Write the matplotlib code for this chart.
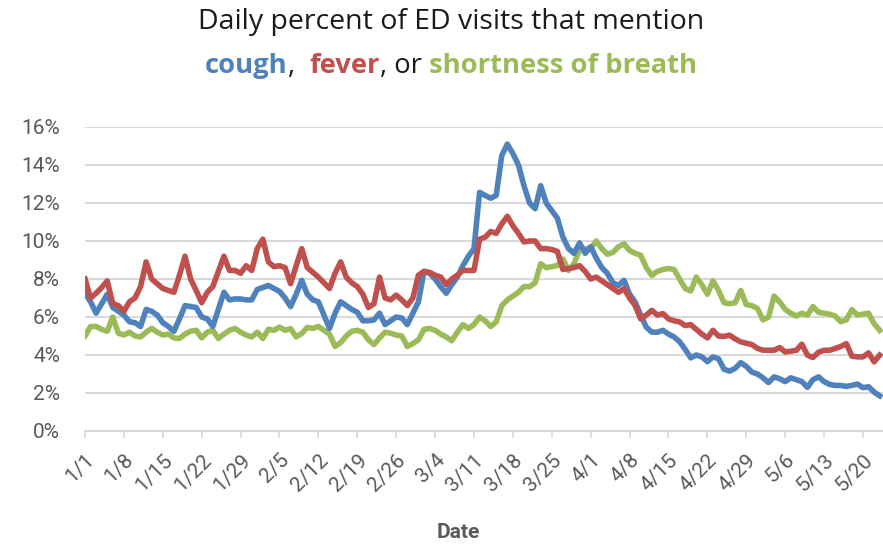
import matplotlib
matplotlib.use("Agg")
import matplotlib.pyplot as plt
import numpy as np
import pandas as pd

# daily values, 1/1 through 5/23 (2020), percent of ED visits
cough = [7.26, 6.8, 6.2, 6.7, 7.2, 6.5, 6.3, 6.1, 5.75, 5.7,
         5.5, 6.4, 6.3, 6.1, 5.7, 5.5, 5.25, 5.9, 6.6, 6.55,
         6.5, 6.0, 5.9, 5.5, 6.4, 7.3, 6.9, 6.95, 6.95, 6.9,
         6.9, 7.45, 7.55, 7.66, 7.5, 7.35, 7.0, 6.55, 7.2, 7.93,
         7.2, 6.9, 6.8, 6.1, 5.4, 6.2, 6.8, 6.6, 6.4, 6.25,
         5.8, 5.8, 5.85, 6.2, 5.6, 5.8, 6.0, 5.95, 5.6, 6.2,
         6.8, 8.4, 8.3, 8.0, 7.6, 7.25, 7.7, 8.1, 8.7, 9.2,
         9.6, 12.56, 12.4, 12.25, 12.4, 14.5, 15.1, 14.6, 14.0, 12.9,
         12.0, 11.7, 12.91, 12.0, 11.6, 11.2, 10.2, 9.6, 9.35, 9.9,
         9.35, 9.7, 9.1, 8.6, 8.3, 7.8, 7.66, 7.93, 7.2, 6.79,
         6.1, 5.47, 5.2, 5.2, 5.3, 5.1, 4.95, 4.7, 4.3, 3.85,
         4.0, 3.9, 3.65, 3.9, 3.8, 3.25, 3.15, 3.3, 3.6, 3.4,
         3.1, 3.0, 2.8, 2.55, 2.85, 2.75, 2.6, 2.8, 2.7, 2.6,
         2.3, 2.7, 2.85, 2.6, 2.45, 2.4, 2.4, 2.35, 2.4, 2.47,
         2.28, 2.33, 2.05, 1.85]
fever = [8.0, 7.0, 7.25, 7.55, 7.9, 6.7, 6.6, 6.3, 6.8, 7.0,
         7.6, 8.9, 8.0, 7.75, 7.5, 7.4, 7.3, 8.2, 9.2, 8.0,
         7.4, 6.75, 7.3, 7.6, 8.4, 9.2, 8.45, 8.45, 8.3, 8.7,
         8.45, 9.6, 10.1, 8.9, 8.65, 8.7, 8.6, 7.75, 8.7, 9.6,
         8.6, 8.35, 8.1, 7.8, 7.5, 8.3, 8.9, 8.1, 7.8, 7.6,
         7.2, 6.5, 6.7, 8.1, 7.0, 6.9, 7.15, 6.9, 6.6, 7.0,
         8.2, 8.4, 8.35, 8.2, 8.1, 7.7, 8.0, 8.2, 8.45, 8.45,
         8.45, 10.1, 10.2, 10.5, 10.4, 10.9, 11.3, 10.8, 10.4, 9.95,
         10.0, 10.0, 9.6, 9.6, 9.55, 9.45, 8.5, 8.55, 8.6, 8.7,
         8.4, 8.0, 8.1, 7.9, 7.7, 7.5, 7.3, 7.49, 7.0, 6.6,
         5.9, 6.1, 6.35, 6.1, 6.18, 5.9, 5.8, 5.74, 5.55, 5.6,
         5.35, 5.1, 4.9, 5.3, 5.0, 4.98, 5.04, 4.85, 4.69, 4.62,
         4.55, 4.35, 4.25, 4.25, 4.25, 4.39, 4.16, 4.2, 4.25, 4.57,
         3.99, 3.87, 4.15, 4.25, 4.25, 4.34, 4.45, 4.6, 3.94, 3.9,
         3.9, 4.11, 3.64, 3.99]
breath = [5.0, 5.5, 5.5, 5.35, 5.25, 6.0, 5.15, 5.05, 5.2, 5.0,
          4.95, 5.2, 5.4, 5.2, 5.05, 5.1, 4.9, 4.87, 5.1, 5.25,
          5.3, 4.9, 5.2, 5.3, 4.87, 5.1, 5.3, 5.4, 5.2, 5.05,
          4.95, 5.2, 4.87, 5.35, 5.3, 5.47, 5.3, 5.39, 4.95, 5.13,
          5.45, 5.4, 5.5, 5.3, 5.1, 4.45, 4.65, 5.0, 5.25, 5.3,
          5.2, 4.8, 4.55, 4.9, 5.2, 5.15, 5.05, 5.0, 4.45, 4.6,
          4.8, 5.35, 5.4, 5.3, 5.1, 4.95, 4.75, 5.2, 5.6, 5.4,
          5.6, 6.0, 5.8, 5.5, 5.74, 6.6, 6.9, 7.1, 7.3, 7.6,
          7.6, 7.8, 8.8, 8.6, 8.65, 8.71, 9.05, 8.45, 8.8, 9.55,
          9.6, 9.6, 10.0, 9.6, 9.3, 9.4, 9.7, 9.85, 9.5, 9.35,
          9.25, 8.6, 8.19, 8.4, 8.5, 8.55, 8.5, 8.0, 7.5, 7.37,
          8.1, 7.7, 7.2, 7.9, 7.4, 6.75, 6.7, 6.75, 7.4, 6.65,
          6.6, 6.45, 5.85, 6.0, 7.1, 6.8, 6.4, 6.2, 6.05, 6.2,
          6.1, 6.55, 6.25, 6.2, 6.15, 6.05, 5.75, 5.85, 6.39, 6.1,
          6.15, 6.2, 5.65, 5.3]

dates = pd.date_range("2020-01-01", periods=len(cough), freq="D")
tick_dates = pd.date_range("2020-01-01", "2020-05-20", freq="7D")
tick_labels = [f"{d.month}/{d.day}" for d in tick_dates]

BLUE = "#4F81BD"
RED = "#C0504D"
GREEN = "#9BBB59"
GRAY = "#595959"

plt.rcParams["font.family"] = ["Roboto", "DejaVu Sans"]

fig = plt.figure(figsize=(8.83, 5.47), dpi=100)
ax = fig.add_axes([85 / 883, 1 - 431 / 547, 798 / 883, 304 / 547])

x = np.arange(len(cough))
ax.plot(x, cough, color=BLUE, lw=4, solid_joinstyle="round", zorder=3)
ax.plot(x, fever, color=RED, lw=4, solid_joinstyle="round", zorder=3)
ax.plot(x, breath, color=GREEN, lw=4, solid_joinstyle="round", zorder=2)

ax.set_ylim(0, 16)
ax.set_xlim(0, 143.6)
ax.set_yticks(np.arange(0, 17, 2))
ax.set_yticklabels([f"{v}%" for v in range(0, 17, 2)])
ax.yaxis.grid(True, color="#D9D9D9", lw=1.5)
ax.set_axisbelow(True)

tick_pos = [(d - dates[0]).days for d in tick_dates]
ax.set_xticks(tick_pos)
ax.set_xticklabels(tick_labels, rotation=45, ha="right", va="top",
                   rotation_mode="anchor")

for s in ["top", "right", "left"]:
    ax.spines[s].set_visible(False)
ax.spines["bottom"].set_color("#D9D9D9")
ax.spines["bottom"].set_linewidth(1.5)
ax.tick_params(axis="y", length=0, pad=18, labelsize=15, labelcolor=GRAY)
ax.tick_params(axis="x", length=5, width=1.2, color="#D9D9D9", pad=9,
               labelsize=15, labelcolor=GRAY)

fig.text(458 / 883, 1 - 532 / 547, "Date", ha="center", va="center",
         fontsize=15, color=GRAY, fontweight="bold")

# title
fig.text(451 / 883, 1 - 22 / 547, "Daily percent of ED visits that mention",
         ha="center", va="center", fontsize=20.5, color="#1a1a1a",
         family="Open Sans")

parts = [("cough", BLUE, "bold"), (",  ", "#1a1a1a", "normal"),
         ("fever", RED, "bold"), (", or ", "#1a1a1a", "normal"),
         ("shortness of breath", GREEN, "bold")]
texts = []
for s, c, w in parts:
    t = fig.text(0, 1 - 66 / 547, s, color=c, fontweight=w, fontsize=19.7,
                 family="Open Sans", va="center")
    texts.append(t)
fig.canvas.draw()
r = fig.canvas.get_renderer()
widths = [t.get_window_extent(r).width for t in texts]
total = sum(widths)
start = 451 - total / 2
for t, w in zip(texts, widths):
    t.set_x(start / 883)
    start += w

fig.savefig("out.png", dpi=100)
